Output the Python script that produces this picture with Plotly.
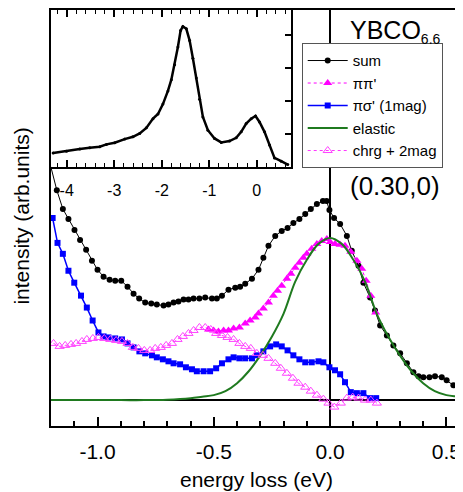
import plotly.graph_objects as go

# ---------------- data ----------------
sum_x = [-1.209, -1.175, -1.149, -1.125, -1.099, -1.075, -1.049, -1.024, -1.0, -0.974,
         -0.948, -0.924, -0.898, -0.871, -0.845, -0.821, -0.795, -0.769, -0.745, -0.716,
         -0.695, -0.673, -0.652, -0.630, -0.609, -0.587, -0.562, -0.537, -0.508, -0.487,
         -0.465, -0.437, -0.408, -0.387, -0.365, -0.336, -0.308, -0.287, -0.265, -0.236,
         -0.208, -0.183, -0.158, -0.132, -0.107, -0.083, -0.057, -0.031, -0.015, -0.003,
         0.017, 0.043, 0.072, 0.093, 0.122, 0.143, 0.172, 0.193, 0.215, 0.244,
         0.272, 0.301, 0.330, 0.358, 0.380, 0.401, 0.427, 0.451, 0.480, 0.501,
         0.530, 0.559]
sum_y = [2.42, 2.11, 1.92, 1.82, 1.71, 1.61, 1.51, 1.40, 1.31, 1.24,
         1.21, 1.20, 1.20, 1.14, 1.07, 1.02, 0.98, 0.97, 0.96, 0.95,
         0.96, 0.98, 0.99, 1.01, 1.01, 1.02, 1.02, 1.03, 1.02, 1.02,
         1.05, 1.11, 1.13, 1.14, 1.17, 1.22, 1.31, 1.43, 1.55, 1.65,
         1.70, 1.73, 1.78, 1.82, 1.87, 1.92, 1.97, 2.00, 2.00, 1.91,
         1.83, 1.77, 1.65, 1.50, 1.35, 1.18, 1.03, 0.90, 0.75, 0.65,
         0.55, 0.47, 0.37, 0.28, 0.24, 0.23, 0.23, 0.24, 0.23, 0.20,
         0.15, 0.10]

pp_x = [-0.523, -0.501, -0.480, -0.458, -0.437, -0.415, -0.390, -0.365, -0.344, -0.322,
        -0.308, -0.287, -0.265, -0.244, -0.226, -0.208, -0.186, -0.169, -0.150, -0.132,
        -0.115, -0.100, -0.079, -0.057, -0.036, -0.014, 0.000, 0.021, 0.043, 0.064,
        0.089, 0.115, 0.136, 0.155, 0.175, 0.196]
pp_y = [0.71, 0.70, 0.69, 0.70, 0.70, 0.72, 0.73, 0.77, 0.80, 0.83,
        0.87, 0.92, 0.98, 1.05, 1.10, 1.15, 1.22, 1.27, 1.33, 1.38,
        1.43, 1.47, 1.52, 1.57, 1.60, 1.62, 1.59, 1.57, 1.56, 1.55,
        1.49, 1.40, 1.32, 1.20, 1.05, 0.88]

ps_x = [-1.193, -1.172, -1.149, -1.125, -1.100, -1.071, -1.046, -1.021, -0.996, -0.974,
        -0.953, -0.924, -0.895, -0.871, -0.845, -0.820, -0.795, -0.766, -0.745, -0.719,
        -0.695, -0.673, -0.645, -0.620, -0.594, -0.573, -0.544, -0.516, -0.490, -0.465,
        -0.437, -0.415, -0.390, -0.365, -0.336, -0.315, -0.287, -0.258, -0.232, -0.208,
        -0.183, -0.158, -0.132, -0.107, -0.079, -0.050, -0.029, -0.003, 0.021, 0.043,
        0.064, 0.089, 0.115, 0.143, 0.172, 0.198]
ps_y = [1.83, 1.58, 1.47, 1.30, 1.18, 1.05, 0.93, 0.80, 0.68, 0.64,
        0.63, 0.62, 0.61, 0.57, 0.53, 0.49, 0.47, 0.45, 0.43, 0.41,
        0.39, 0.37, 0.36, 0.33, 0.31, 0.29, 0.29, 0.29, 0.32, 0.37,
        0.41, 0.43, 0.42, 0.42, 0.42, 0.45, 0.49, 0.54, 0.56, 0.54,
        0.50, 0.45, 0.41, 0.38, 0.38, 0.39, 0.38, 0.33, 0.30, 0.26,
        0.18, 0.08, 0.07, 0.07, 0.02, 0.02]

el_x = [-1.20, -0.90, -0.80, -0.70, -0.60, -0.55, -0.50, -0.45, -0.40, -0.35,
        -0.30, -0.25, -0.20, -0.15, -0.10, -0.05, 0.00, 0.05, 0.10, 0.15,
        0.20, 0.25, 0.30, 0.35, 0.40, 0.45, 0.50, 0.55, 0.60]
el_y = [0.0, 0.0, 0.0, 0.005, 0.02, 0.035, 0.05, 0.09, 0.17, 0.29,
        0.45, 0.64, 0.87, 1.19, 1.41, 1.57, 1.63, 1.57, 1.41, 1.19,
        0.87, 0.64, 0.45, 0.29, 0.17, 0.09, 0.05, 0.035, 0.02]

cm_x = [-1.189, -1.163, -1.139, -1.114, -1.092, -1.067, -1.046, -1.020, -0.996, -0.971,
        -0.945, -0.920, -0.895, -0.871, -0.848, -0.824, -0.799, -0.774, -0.752, -0.728,
        -0.705, -0.680, -0.656, -0.633, -0.609, -0.587, -0.562, -0.537, -0.513, -0.490,
        -0.465, -0.441, -0.415, -0.390, -0.365, -0.341, -0.315, -0.289, -0.265, -0.236,
        -0.212, -0.186, -0.160, -0.136, -0.107, -0.083, -0.057, -0.029, -0.007, 0.018,
        0.046, 0.072, 0.097, 0.122, 0.150, 0.175, 0.201]
cm_y = [0.57, 0.54, 0.55, 0.56, 0.57, 0.59, 0.61, 0.62, 0.63, 0.62,
        0.61, 0.60, 0.59, 0.57, 0.53, 0.52, 0.50, 0.50, 0.52, 0.53,
        0.55, 0.57, 0.61, 0.64, 0.67, 0.70, 0.73, 0.73, 0.71, 0.67,
        0.65, 0.63, 0.61, 0.57, 0.54, 0.52, 0.47, 0.45, 0.42, 0.37,
        0.32, 0.27, 0.22, 0.17, 0.13, 0.09, 0.05, 0.01, -0.03, -0.07,
        -0.03, 0.02, 0.03, 0.02, 0.00, 0.00, -0.03]

inset_x = [-4.285, -4.004, -3.725, -3.515, -3.305, -3.164, -2.990, -2.779, -2.605, -2.464,
           -2.324, -2.184, -2.079, -1.975, -1.870, -1.798, -1.729, -1.660, -1.603, -1.555,
           -1.483, -1.414, -1.345, -1.273, -1.204, -1.134, -1.029, -0.889, -0.748, -0.574,
           -0.433, -0.328, -0.223, -0.118, -0.027, 0.057, 0.162, 0.267, 0.372, 0.513, 0.651]
inset_y = [0.42, 0.47, 0.54, 0.58, 0.61, 0.68, 0.73, 0.84, 0.91, 1.01,
           1.18, 1.46, 1.60, 1.90, 2.30, 2.64, 3.09, 3.63, 4.13, 4.25,
           4.18, 3.83, 3.29, 2.69, 2.05, 1.51, 1.11, 0.86, 0.74, 0.78,
           0.88, 1.06, 1.31, 1.46, 1.54, 1.36, 1.06, 0.66, 0.27, 0.17, 0.07]

main_ticks = [-1.0, -0.5, 0.0, 0.5]
main_ticklabels = ["-1.0", "-0.5", "0.0", "0.5"]
inset_ticks = [-4, -3, -2, -1, 0]
inset_ticklabels = ["-4", "-3", "-2", "-1", "0"]

FONT = "Arial, Liberation Sans, sans-serif"
MAG = "#ff00ff"

fig = go.Figure()
fig.add_trace(go.Scatter(x=sum_x, y=sum_y, name="sum", mode="lines+markers",
                         line=dict(color="black", width=1),
                         marker=dict(symbol="circle", size=6, color="black")))
fig.add_trace(go.Scatter(x=pp_x, y=pp_y, name="ππ'", mode="lines+markers",
                         line=dict(color=MAG, width=1, dash="dot"),
                         marker=dict(symbol="triangle-up", size=8, color=MAG)))
fig.add_trace(go.Scatter(x=ps_x, y=ps_y, name="πσ' (1mag)", mode="lines+markers",
                         line=dict(color="#0000ff", width=1.5),
                         marker=dict(symbol="square", size=6, color="#0000ff")))
fig.add_trace(go.Scatter(x=el_x, y=el_y, name="elastic", mode="lines",
                         line=dict(color="#1f7a1f", width=2, shape="spline")))
fig.add_trace(go.Scatter(x=cm_x, y=cm_y, name="chrg + 2mag", mode="lines+markers",
                         line=dict(color=MAG, width=0.8, dash="dot"),
                         marker=dict(symbol="triangle-up-open", size=8, color="#ff44ff",
                                     line=dict(width=1))))
fig.add_trace(go.Scatter(x=inset_x, y=inset_y, xaxis="x2", yaxis="y2", mode="lines+markers",
                         showlegend=False, line=dict(color="black", width=2.5),
                         marker=dict(size=3, color="black")))

fig.update_layout(
    width=455, height=484,
    margin=dict(l=43, r=1, t=0, b=66),
    paper_bgcolor="white", plot_bgcolor="white",
    font=dict(family=FONT, color="black"),
    showlegend=True,
    legend=dict(x=0.61, y=0.92, xanchor="left", yanchor="top",
                bgcolor="white", bordercolor="#555555", borderwidth=1,
                font=dict(size=15, family=FONT), tracegroupgap=0,
                itemwidth=40),
    xaxis=dict(range=[-1.2, 0.567], domain=[0, 1], tickvals=main_ticks, ticktext=main_ticklabels,
               ticks="inside", ticklen=9, tickwidth=2, tickcolor="black",
               minor=dict(dtick=0.1, ticks="inside", ticklen=5, tickwidth=1.5, tickcolor="black"),
               showline=True, linewidth=2, linecolor="black", mirror=True,
               showgrid=False, zeroline=True, zerolinecolor="black", zerolinewidth=2,
               tickfont=dict(size=21), ticklabelstandoff=6),
    yaxis=dict(range=[-0.26, 3.92], domain=[0, 1], showticklabels=False, ticks="",
               showline=True, linewidth=2, linecolor="black",
               showgrid=False, zeroline=True, zerolinecolor="black", zerolinewidth=2),
    xaxis2=dict(range=[-4.33, 0.72], domain=[0, 0.584], anchor="y2",
                tickvals=inset_ticks, ticktext=inset_ticklabels,
                ticks="inside", ticklen=7, tickwidth=1.5, tickcolor="black",
                minor=dict(dtick=0.2, ticks="inside", ticklen=4, tickwidth=1, tickcolor="black"),
                showline=True, linewidth=2, linecolor="black", mirror="allticks",
                showgrid=False, zeroline=False, tickfont=dict(size=16), ticklabelstandoff=8),
    yaxis2=dict(range=[0, 4.75], domain=[0.623, 1.0], anchor="x2", side="right",
                showticklabels=False, dtick=1, ticks="inside", ticklen=6, tickwidth=1.5,
                tickcolor="black", showline=True, linewidth=2, linecolor="black", mirror=True,
                showgrid=False, zeroline=False),
)

# inset white background
fig.add_shape(type="rect", xref="x2 domain", yref="y2 domain", x0=0, x1=1, y0=0, y1=1,
              fillcolor="white", line=dict(width=0), layer="below")

fig.add_annotation(xref="paper", yref="paper", x=0.7226, y=0.99, xanchor="left", yanchor="top",
                   text="YBCO<sub><span style='font-size:14px'>6.6</span></sub>",
                   showarrow=False, font=dict(size=25, family=FONT))
fig.add_annotation(xref="paper", yref="paper", x=0.7226, y=0.577, xanchor="left", yanchor="middle",
                   text="(0.30,0)", showarrow=False, font=dict(size=26, family=FONT))
fig.add_annotation(xref="paper", yref="paper", x=0.5, y=-0.128, xanchor="center", yanchor="middle",
                   text="energy loss (eV)", showarrow=False, font=dict(size=21, family=FONT))
fig.add_annotation(xref="paper", yref="paper", x=-0.0713, y=0.505, xanchor="center", yanchor="middle",
                   text="intensity (arb.units)", textangle=-90, showarrow=False,
                   font=dict(size=21, family=FONT))

fig.write_html("out.html")
